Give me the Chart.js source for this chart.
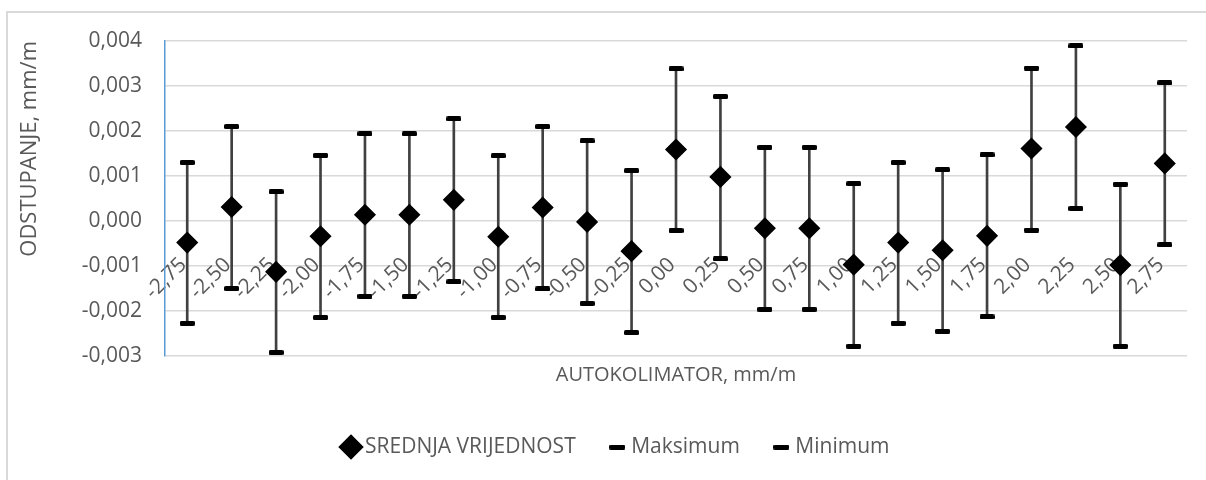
<!DOCTYPE html>
<html><head><meta charset="utf-8">
<script src="https://cdn.jsdelivr.net/npm/chart.js@4/dist/chart.umd.min.js"></script>
<style>
html,body{margin:0;padding:0;background:#fff;overflow:hidden;}
#wrap{position:relative;width:1206px;height:480px;overflow:hidden;}
#frame{position:absolute;left:6px;top:11px;width:1400px;height:700px;border-left:2px solid #d9d9d9;border-top:2px solid #d9d9d9;}
canvas{position:absolute;left:0;top:0;}
</style></head><body>
<div id="wrap"><div id="frame"></div><canvas id="c" width="1206" height="480"></canvas></div>
<script>
const categories = ['-2,75','-2,50','-2,25','-2,00','-1,75','-1,50','-1,25','-1,00','-0,75','-0,50','-0,25','0,00','0,25','0,50','0,75','1,00','1,25','1,50','1,75','2,00','2,25','2,50','2,75'];
const meanValues = [-0.00048, 0.00031, -0.00113, -0.00034, 0.00014, 0.00014, 0.00047, -0.00035, 0.00030, -0.00002, -0.00067, 0.00159, 0.00098, -0.00016, -0.00016, -0.00097, -0.00048, -0.00065, -0.00033, 0.00161, 0.00209, -0.00098, 0.00128];
const maxValues = [0.00130, 0.00210, 0.00065, 0.00146, 0.00194, 0.00194, 0.00227, 0.00145, 0.00210, 0.00178, 0.00112, 0.00338, 0.00277, 0.00164, 0.00164, 0.00083, 0.00130, 0.00114, 0.00147, 0.00340, 0.00389, 0.00082, 0.00307];
const minValues = [-0.00227, -0.00150, -0.00292, -0.00214, -0.00167, -0.00167, -0.00135, -0.00214, -0.00151, -0.00183, -0.00248, -0.00021, -0.00084, -0.00196, -0.00196, -0.00278, -0.00227, -0.00245, -0.00213, -0.00020, 0.00028, -0.00278, -0.00053];
const yTickValues = [-0.003, -0.002, -0.001, 0, 0.001, 0.002, 0.003, 0.004];
const yTickLabels = ['-0,003','-0,002','-0,001','0,000','0,001','0,002','0,003','0,004'];
const seriesNames = ['SREDNJA VRIJEDNOST','Maksimum','Minimum'];
const yTitle = 'ODSTUPANJE, mm/m';
const xTitle = 'AUTOKOLIMATOR, mm/m';

const FONT = '"Open Sans", Lato, sans-serif';
const TXT = '#595959';

function makeDash(w, h) {
  const c = document.createElement('canvas');
  c.width = w; c.height = h;
  const g = c.getContext('2d');
  g.fillStyle = '#000';
  g.beginPath();
  if (g.roundRect) { g.roundRect(0, 0, w, h, 1.5); } else { g.rect(0, 0, w, h); }
  g.fill();
  return c;
}
const capMark = makeDash(15, 5);
const legendDash = makeDash(16, 5);

const legendShift = {
  id: 'legendShift',
  afterLayout(chart) {
    const lg = chart.legend;
    if (lg) { lg.left += 25; lg.right += 25; }
  }
};

new Chart(document.getElementById('c'), {
  type: 'bar',
  data: {
    labels: categories,
    datasets: [
      { type: 'line', label: seriesNames[0], data: meanValues, showLine: false, order: 0,
        pointStyle: 'rectRot', pointRadius: 10, pointBorderWidth: 1.5,
        backgroundColor: '#000', borderColor: '#000', pointBackgroundColor: '#000', pointBorderColor: '#000' },
      { type: 'line', label: seriesNames[1], data: maxValues, showLine: false, order: 1,
        pointStyle: capMark, pointRadius: 7, backgroundColor: '#000', borderColor: '#000' },
      { type: 'line', label: seriesNames[2], data: minValues, showLine: false, order: 2,
        pointStyle: capMark, pointRadius: 7, backgroundColor: '#000', borderColor: '#000' },
      { type: 'bar', label: 'range', data: categories.map((c, i) => [minValues[i], maxValues[i]]), order: 3,
        backgroundColor: '#404040', borderWidth: 0, barThickness: 2 }
    ]
  },
  options: {
    responsive: false,
    animation: false,
    devicePixelRatio: 1,
    layout: { padding: { left: 0, top: 41, right: 19, bottom: 12.5 } },
    plugins: {
      tooltip: { enabled: false },
      legend: {
        position: 'bottom',
        labels: {
          usePointStyle: true, boxWidth: 7, boxHeight: 16.5, padding: 38,
          color: TXT, font: { family: FONT, size: 21 },
          filter: item => item.datasetIndex !== 3,
          generateLabels(chart) {
            const items = Chart.defaults.plugins.legend.labels.generateLabels(chart);
            items.forEach(it => { if (it.datasetIndex === 1 || it.datasetIndex === 2) it.pointStyle = legendDash; });
            return items;
          }
        }
      }
    },
    scales: {
      x: {
        type: 'category', position: 'bottom', offset: true,
        grid: { display: false, drawTicks: false },
        border: { display: false },
        ticks: { display: false },
        title: { display: true, text: xTitle, color: TXT, font: { family: FONT, size: 20 }, padding: { top: 7, bottom: 11.5 } }
      },
      x2: {
        type: 'category', axis: 'x', position: { y: -0.0007 }, offset: true,
        grid: { display: false, drawTicks: false },
        border: { display: false },
        ticks: { autoSkip: false, minRotation: 45, maxRotation: 45, padding: 0, labelOffset: -4,
                 color: TXT, font: { family: FONT, size: 21 } }
      },
      y: {
        min: -0.003, max: 0.004,
        afterBuildTicks: scale => { scale.ticks = yTickValues.map(v => ({ value: v })); },
        afterFit: scale => { scale.width = 165; },
        grid: { color: '#d9d9d9', lineWidth: 1.5, drawTicks: false },
        border: { display: true, color: '#5b9bd5', width: 1.5 },
        ticks: { padding: 23, color: TXT, font: { family: FONT, size: 21 },
                 callback: (v, i) => yTickLabels[i] },
        title: { display: true, text: yTitle, align: 'end', color: TXT, font: { family: FONT, size: 22 }, padding: { top: 16.8, bottom: 0 } }
      }
    }
  },
  plugins: [legendShift]
});
</script>
</body></html>
